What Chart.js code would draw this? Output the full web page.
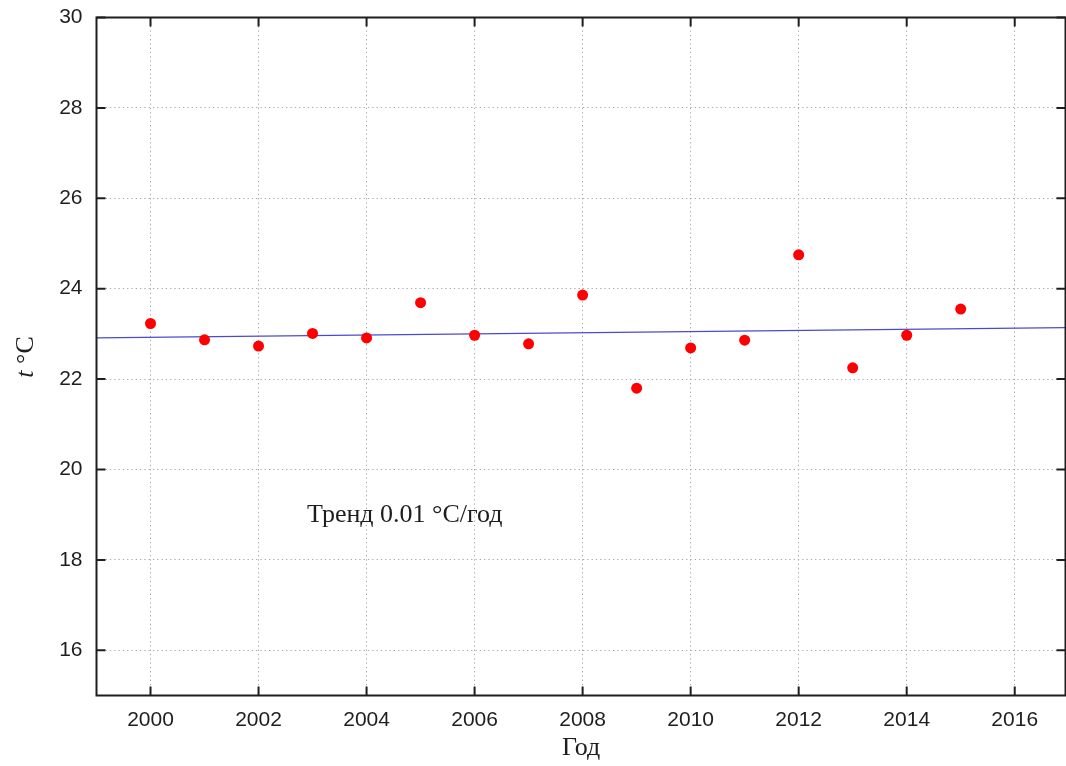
<!DOCTYPE html>
<html><head><meta charset="utf-8">
<script src="https://cdn.jsdelivr.net/npm/chart.js@4/dist/chart.umd.min.js"></script>
<style>html,body{margin:0;padding:0;background:#fff;overflow:hidden}</style>
</head><body>
<canvas id="c" width="1066" height="766"></canvas>
<script>
const years = [2000,2001,2002,2003,2004,2005,2006,2007,2008,2009,2010,2011,2012,2013,2014,2015];
const temps = [23.23,22.87,22.73,23.01,22.91,23.69,22.97,22.78,23.86,21.80,22.69,22.86,24.75,22.25,22.97,23.55];
const trendYears = [1999, 2016.94];
const trendValues = [22.91, 23.14];
const xTicks = [2000,2002,2004,2006,2008,2010,2012,2014,2016];
const yTicks = [16,18,20,22,24,26,28,30];
const xTitle = 'Год';
const yTitleItalic = 't';
const yTitleRest = ' °C';
const trendText = 'Тренд 0.01 °C/год';

const frame = {
  id: 'frame',
  afterDraw(chart) {
    const ctx = chart.ctx, a = chart.chartArea;
    const xs = chart.scales.x, ys = chart.scales.y;
    ctx.save();
    ctx.strokeStyle = '#1e1e1e';
    ctx.lineWidth = 2;
    ctx.strokeRect(a.left, a.top, a.right - a.left, a.bottom - a.top);
    ctx.beginPath();
    const L = 9;
    xTicks.forEach(v => {
      const px = xs.getPixelForValue(v);
      ctx.moveTo(px, a.bottom); ctx.lineTo(px, a.bottom - L);
      ctx.moveTo(px, a.top); ctx.lineTo(px, a.top + L);
    });
    yTicks.forEach(v => {
      const py = ys.getPixelForValue(v);
      ctx.moveTo(a.left, py); ctx.lineTo(a.left + L, py);
      ctx.moveTo(a.right, py); ctx.lineTo(a.right - L, py);
    });
    ctx.stroke();
    ctx.fillStyle = '#1e1e1e';
    const serif = '26px "Liberation Serif"';
    const serifI = 'italic 26px "Liberation Serif"';
    ctx.font = serif;
    ctx.textBaseline = 'alphabetic';
    ctx.textAlign = 'left';
    ctx.fillText(trendText, 307, 522);
    ctx.textAlign = 'center';
    ctx.fillText(xTitle, (a.left + a.right) / 2, 755);
    ctx.translate(33, 357);
    ctx.rotate(-Math.PI / 2);
    ctx.font = serifI;
    const w1 = ctx.measureText(yTitleItalic).width;
    ctx.font = serif;
    const w2 = ctx.measureText(yTitleRest).width;
    ctx.textAlign = 'left';
    ctx.font = serifI;
    ctx.fillText(yTitleItalic, -(w1 + w2) / 2, 0);
    ctx.font = serif;
    ctx.fillText(yTitleRest, -(w1 + w2) / 2 + w1, 0);
    ctx.restore();
  }
};

const tickFont = {family: '"Liberation Sans", Arial, sans-serif', size: 21};
const noPad = s => { s.paddingTop = 0; s.paddingBottom = 0; s.paddingLeft = 0; s.paddingRight = 0; };

new Chart(document.getElementById('c'), {
  type: 'scatter',
  data: {
    datasets: [
      {
        data: years.map((y, i) => ({x: y, y: temps[i]})),
        pointRadius: 5.5,
        pointBackgroundColor: '#ff0000',
        pointBorderWidth: 0,
        order: 0
      },
      {
        type: 'line',
        data: trendYears.map((y, i) => ({x: y, y: trendValues[i]})),
        borderColor: '#4a4ad0',
        borderWidth: 1.3,
        pointRadius: 0,
        fill: false,
        order: 1
      }
    ]
  },
  options: {
    responsive: false,
    animation: false,
    layout: {autoPadding: false, padding: {left: 0, top: 17.5, right: 0.5, bottom: 0}},
    plugins: {legend: {display: false}, tooltip: {enabled: false}},
    scales: {
      x: {
        type: 'linear', min: 1999, max: 2016.94,
        afterBuildTicks: s => { s.ticks = xTicks.map(v => ({value: v})); },
        afterFit: s => { s.height = 70.5; noPad(s); },
        grid: {color: '#a8a8a8', lineWidth: 1, drawTicks: false},
        border: {display: false, dash: [1.3, 3]},
        ticks: {padding: 12, font: tickFont, color: '#1e1e1e', maxRotation: 0, autoSkip: false, callback: v => String(v)}
      },
      y: {
        type: 'linear', min: 15, max: 30,
        afterBuildTicks: s => { s.ticks = yTicks.map(v => ({value: v})); },
        afterFit: s => { s.width = 96.5; noPad(s); },
        grid: {color: '#a8a8a8', lineWidth: 1, drawTicks: false},
        border: {display: false, dash: [1.3, 3]},
        ticks: {padding: 14, font: tickFont, color: '#1e1e1e', autoSkip: false, callback: v => String(v)}
      }
    }
  },
  plugins: [frame]
});
</script>
</body></html>
